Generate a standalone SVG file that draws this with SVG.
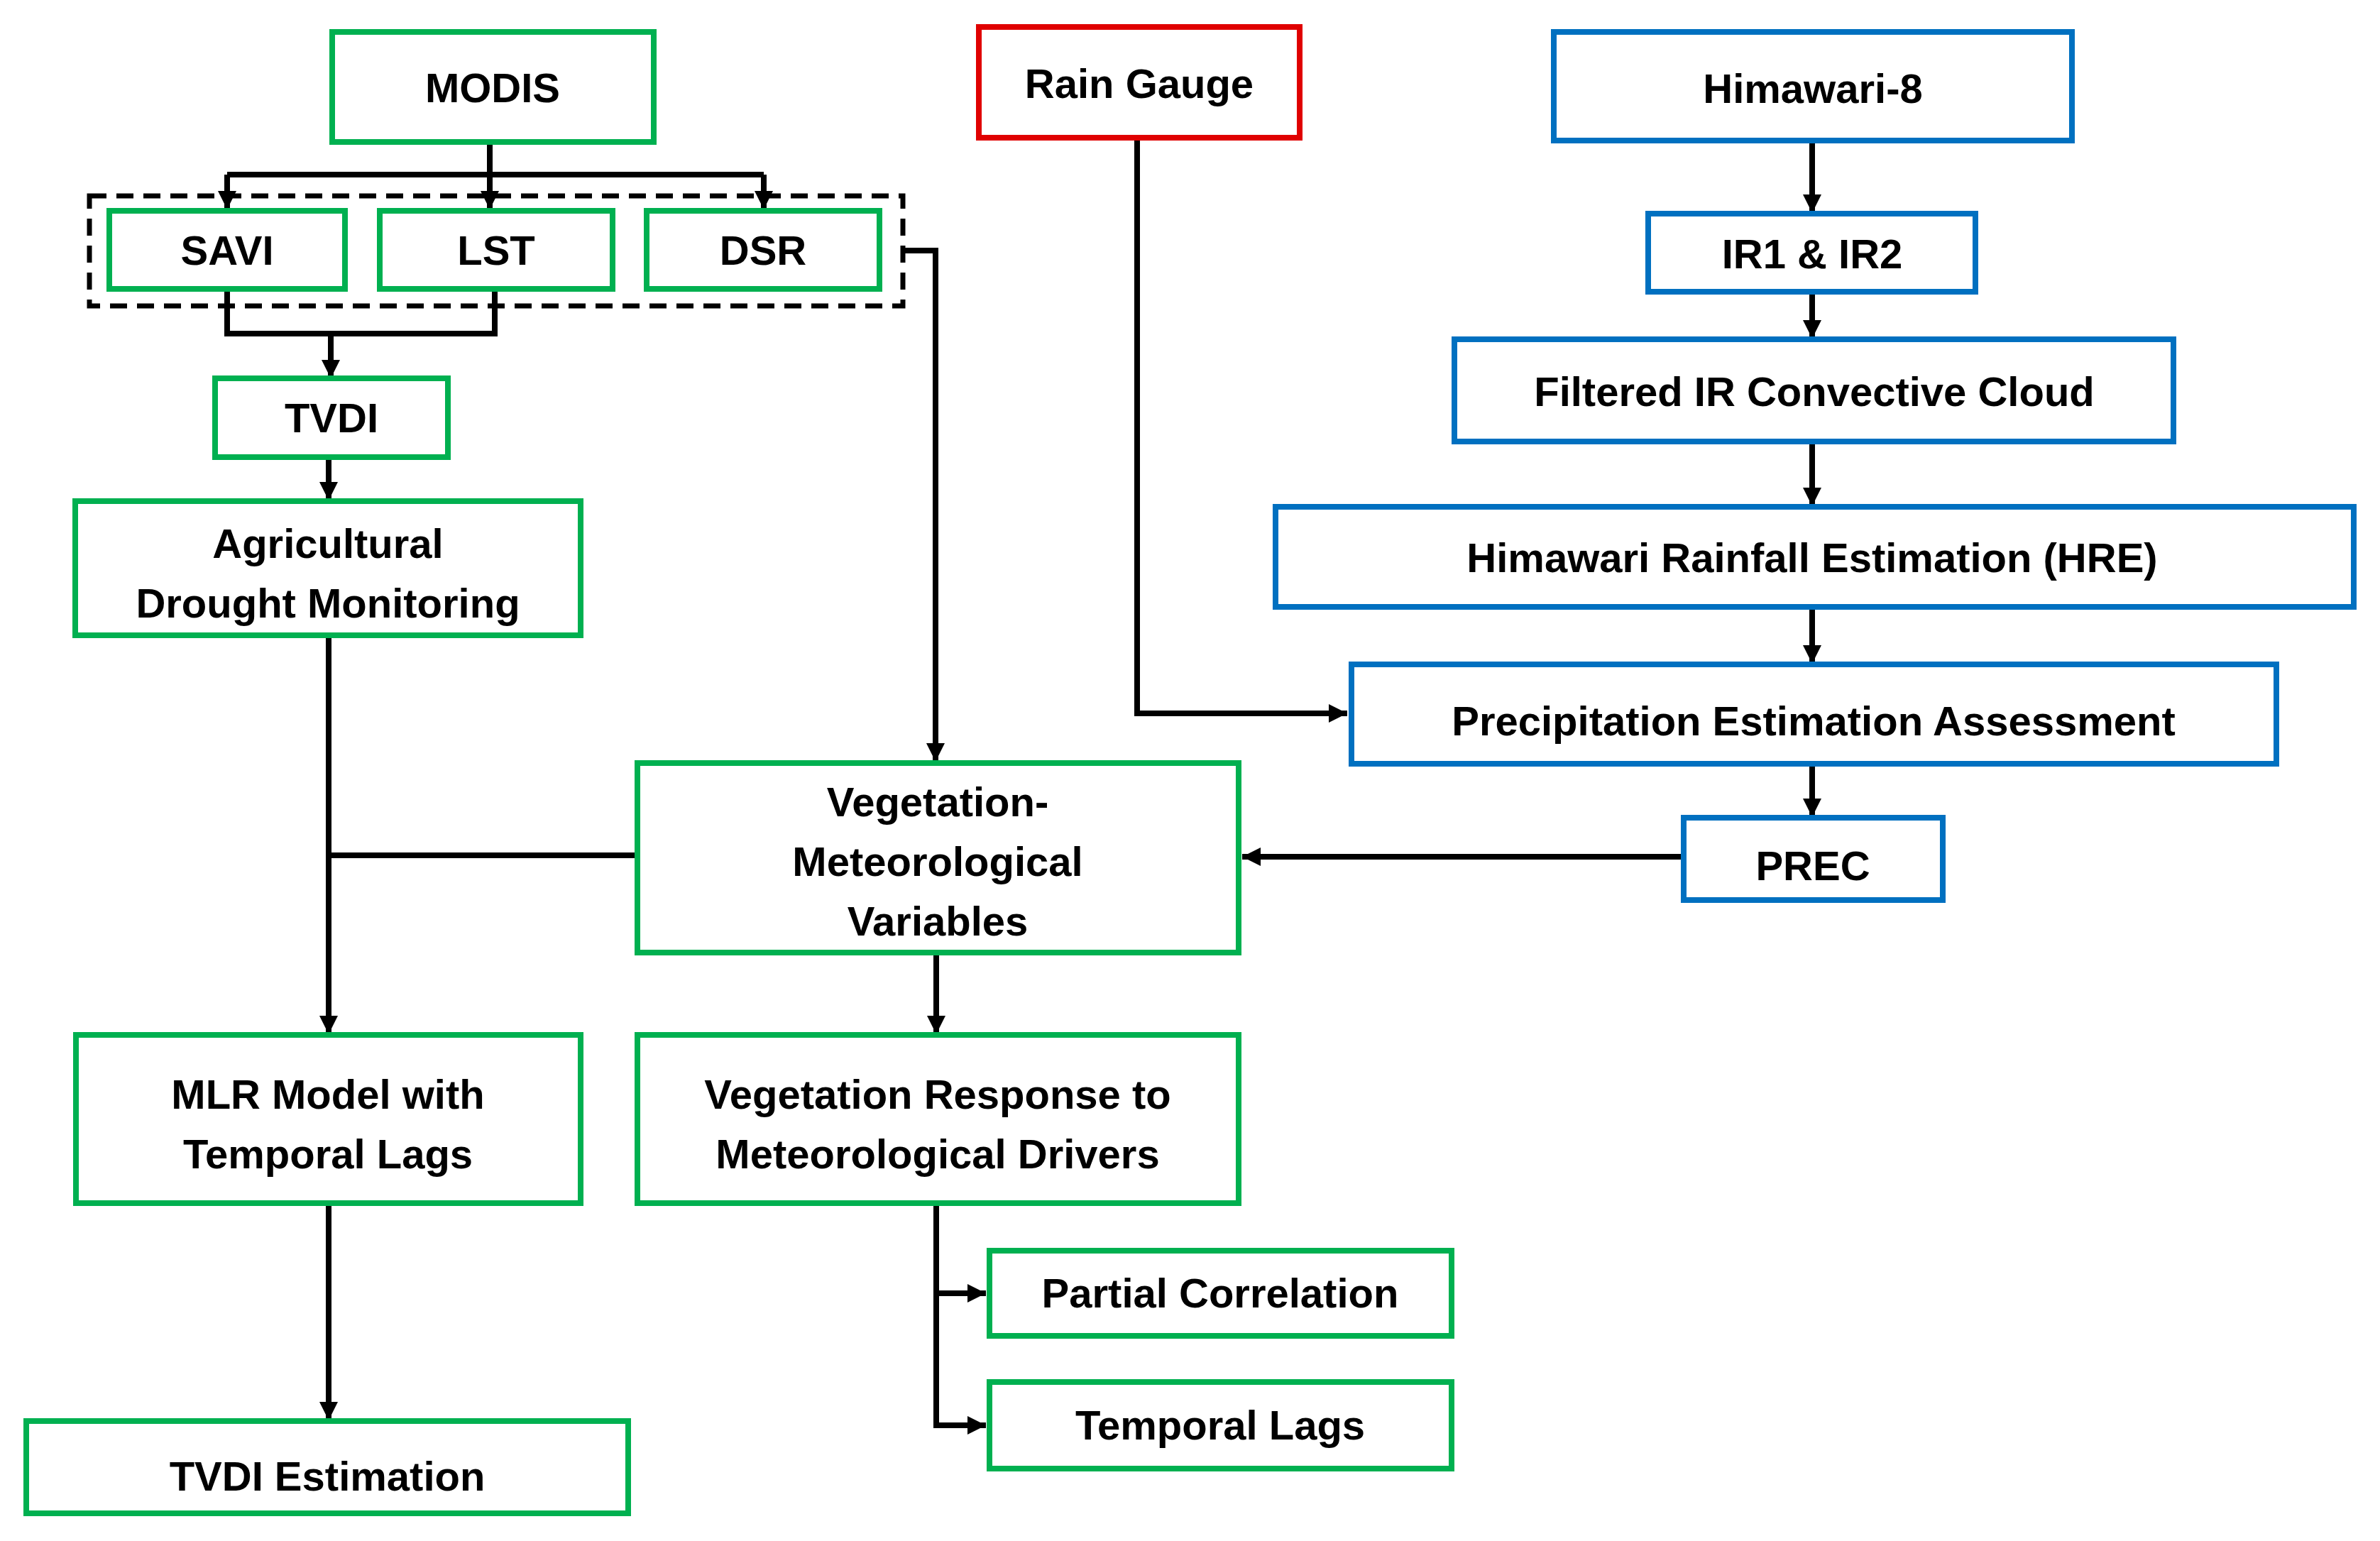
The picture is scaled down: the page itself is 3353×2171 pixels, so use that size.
<svg xmlns="http://www.w3.org/2000/svg" width="3353" height="2171" viewBox="0 0 3353 2171">
<style>
.g{fill:#fff;stroke:#00b050;stroke-width:8}
.b{fill:#fff;stroke:#0070c0;stroke-width:8}
.r{fill:#fff;stroke:#e00000;stroke-width:8}
text{font-family:"Liberation Sans",Arial,sans-serif;font-weight:bold;font-size:58px;fill:#000;text-anchor:middle}
.c path{fill:none;stroke:#000;stroke-width:8}
</style>
<defs><marker id="a" markerWidth="8" markerHeight="8" refX="7" refY="4" orient="auto" markerUnits="userSpaceOnUse" viewBox="0 0 8 8"><path d="M0,0L8,4L0,8z" fill="#000"/></marker>
<marker id="m" viewBox="0 0 10 10" refX="10" refY="5" markerWidth="26" markerHeight="26" markerUnits="userSpaceOnUse" orient="auto"><path d="M0,0L10,5L0,10z" fill="#000"/></marker></defs>
<rect x="126" y="276" width="1146" height="155" fill="none" stroke="#000" stroke-width="7" stroke-dasharray="24,14"/>
<g class="c">
<path d="M690,201V246M320,246H1076M320,246V295" marker-end="url(#m)"/>
<path d="M690,246V295" marker-end="url(#m)"/>
<path d="M1076,246V295" marker-end="url(#m)"/>
<path d="M320,407V470H697V407"/>
<path d="M466,470V533" marker-end="url(#m)"/>
<path d="M463,644V705" marker-end="url(#m)"/>
<path d="M1272,353H1318V1073" marker-end="url(#m)"/>
<path d="M1602,194V1005H1898" marker-end="url(#m)"/>
<path d="M2553,198V300" marker-end="url(#m)"/>
<path d="M2553,411V477" marker-end="url(#m)"/>
<path d="M2553,622V713" marker-end="url(#m)"/>
<path d="M2553,855V935" marker-end="url(#m)"/>
<path d="M2553,1076V1151" marker-end="url(#m)"/>
<path d="M2368,1207H1750" marker-end="url(#m)"/>
<path d="M463,895V1457" marker-end="url(#m)"/>
<path d="M463,1205H894"/>
<path d="M1319,1342V1457" marker-end="url(#m)"/>
<path d="M463,1695V2001" marker-end="url(#m)"/>
<path d="M1319,1695V2008H1389" marker-end="url(#m)"/>
<path d="M1319,1822H1389" marker-end="url(#m)"/>
</g>
<g id="modis"><rect class="g" x="468" y="45" width="453" height="155"/><text x="694" y="144">MODIS</text></g>
<g id="savi"><rect class="g" x="154" y="297" width="332" height="110"/><text x="320" y="373">SAVI</text></g>
<g id="lst"><rect class="g" x="535" y="297" width="328" height="110"/><text x="699" y="373">LST</text></g>
<g id="dsr"><rect class="g" x="911" y="297" width="328" height="110"/><text x="1075" y="373">DSR</text></g>
<g id="tvdi"><rect class="g" x="303" y="533" width="328" height="111"/><text x="467" y="609">TVDI</text></g>
<g id="agri"><rect class="g" x="106" y="706" width="712" height="189"/><text x="462" y="786">Agricultural</text><text x="462" y="870">Drought Monitoring</text></g>
<g id="rain"><rect class="r" x="1379" y="38" width="452" height="156"/><text x="1605" y="138">Rain Gauge</text></g>
<g id="him"><rect class="b" x="2189" y="45" width="730" height="153"/><text x="2554" y="145">Himawari-8</text></g>
<g id="ir"><rect class="b" x="2322" y="301" width="461" height="110"/><text x="2553" y="378">IR1 &amp; IR2</text></g>
<g id="filt"><rect class="b" x="2049" y="478" width="1013" height="144"/><text x="2556" y="572">Filtered IR Convective Cloud</text></g>
<g id="hre"><rect class="b" x="1797" y="714" width="1519" height="141"/><text x="2553" y="806">Himawari Rainfall Estimation (HRE)</text></g>
<g id="pea"><rect class="b" x="1904" y="936" width="1303" height="140"/><text x="2555" y="1036">Precipitation Estimation Assessment</text></g>
<g id="prec"><rect class="b" x="2372" y="1152" width="365" height="116"/><text x="2554" y="1240">PREC</text></g>
<g id="veg"><rect class="g" x="898" y="1075" width="847" height="267"/><text x="1321" y="1150">Vegetation-</text><text x="1321" y="1234">Meteorological</text><text x="1321" y="1318">Variables</text></g>
<g id="mlr"><rect class="g" x="107" y="1458" width="711" height="237"/><text x="462" y="1562">MLR Model with</text><text x="462" y="1646">Temporal Lags</text></g>
<g id="resp"><rect class="g" x="898" y="1458" width="847" height="237"/><text x="1321" y="1562">Vegetation Response to</text><text x="1321" y="1646">Meteorological Drivers</text></g>
<g id="tvdie"><rect class="g" x="37" y="2002" width="848" height="130"/><text x="461" y="2100">TVDI Estimation</text></g>
<g id="pc"><rect class="g" x="1394" y="1762" width="651" height="120"/><text x="1719" y="1842">Partial Correlation</text></g>
<g id="tl"><rect class="g" x="1394" y="1947" width="651" height="122"/><text x="1719" y="2028">Temporal Lags</text></g>
</svg>
